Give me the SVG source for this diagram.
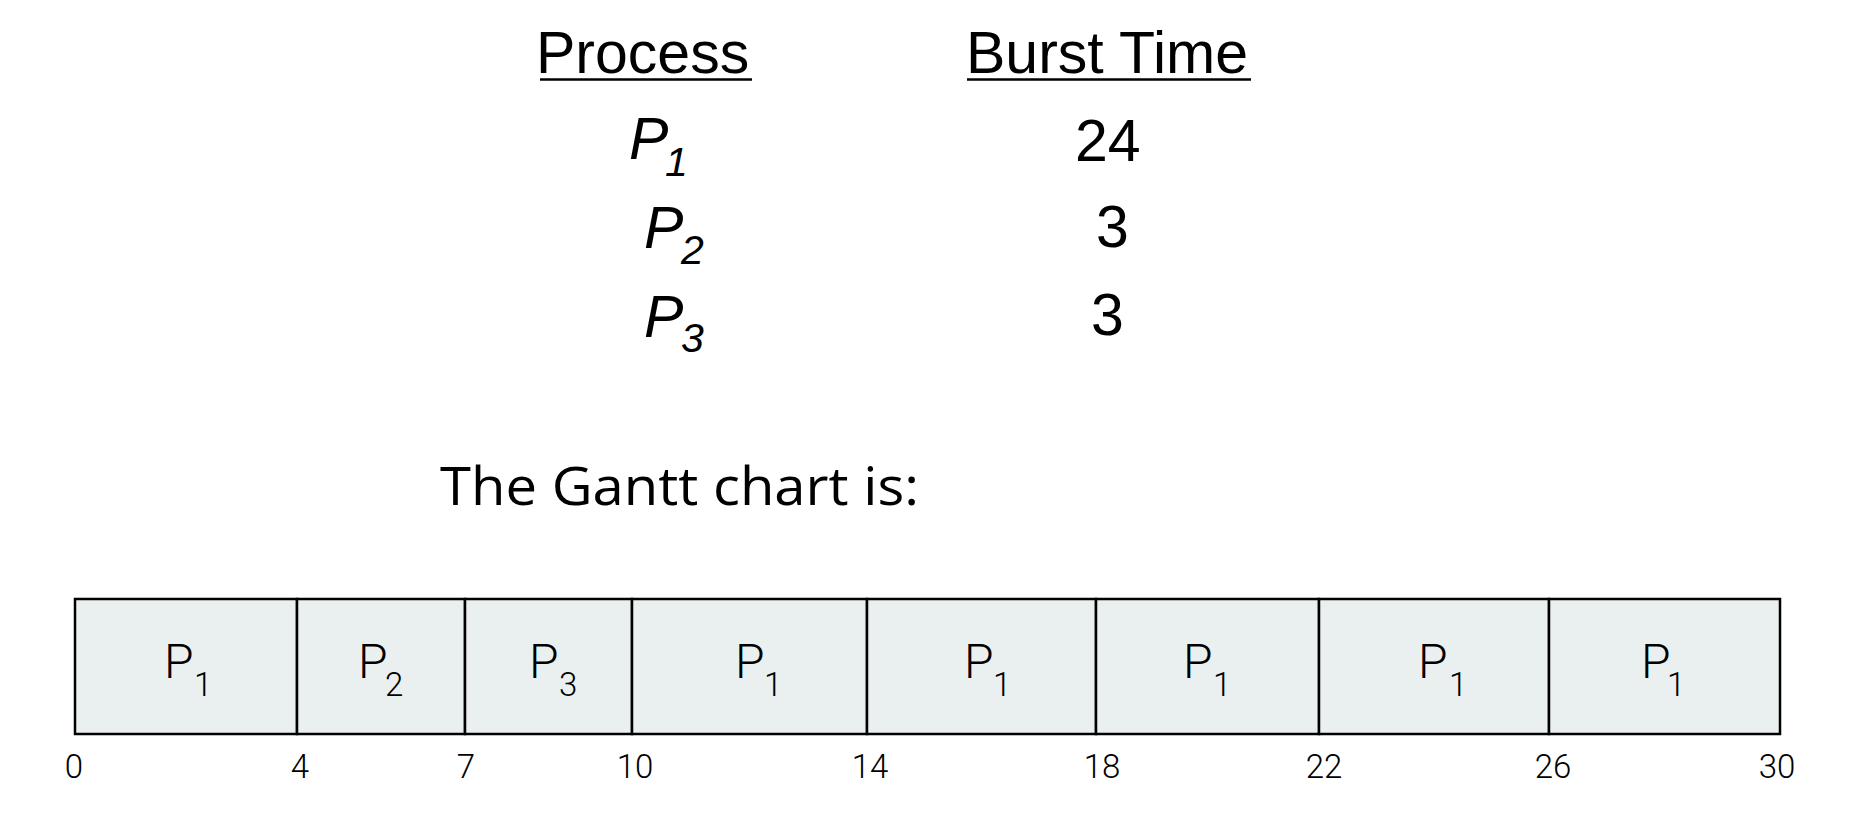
<svg xmlns="http://www.w3.org/2000/svg" width="1866" height="832" viewBox="0 0 1866 832">
  <style>
    .hdr { font-family: "Liberation Sans", Arial, sans-serif; font-size: 59px; fill: #000; }
    .ital { font-family: "Liberation Sans", Arial, sans-serif; font-style: italic; fill: #000; }
    .num { font-family: "Liberation Sans", Arial, sans-serif; font-size: 59px; fill: #000; }
    .title { font-family: "Open Sans", "Liberation Sans", sans-serif; font-size: 53px; fill: #000; }
    .cell { fill: #EAEFEF; stroke: #000; stroke-width: 2.5; }
    .clab { font-family: Roboto, "Liberation Sans", sans-serif; font-weight: 300; font-size: 48px; fill: #000; }
    .sub { font-size: 33px; }
    .tick { font-family: Roboto, "Liberation Sans", sans-serif; font-weight: 300; font-size: 33px; fill: #000; text-anchor: middle; }
    .uline { stroke: #000; stroke-width: 2.7; }
  </style>

  <g id="table">
    <g id="header-process">
      <text class="hdr" x="536" y="73">Process</text>
      <line class="uline" x1="540" y1="79.5" x2="752" y2="79.5"/>
    </g>
    <g id="header-burst">
      <text class="hdr" x="966" y="73">Burst Time</text>
      <line class="uline" x1="967" y1="79.5" x2="1251" y2="79.5"/>
    </g>
    <g id="row-p1">
      <text class="ital" font-size="59" x="629" y="159">P<tspan font-size="41" x="665" y="176">1</tspan></text>
      <text class="num" x="1075" y="161">24</text>
    </g>
    <g id="row-p2">
      <text class="ital" font-size="59" x="644" y="248">P<tspan font-size="41" x="681" y="264">2</tspan></text>
      <text class="num" x="1096" y="247">3</text>
    </g>
    <g id="row-p3">
      <text class="ital" font-size="59" x="644" y="337">P<tspan font-size="41" x="681" y="352">3</tspan></text>
      <text class="num" x="1091" y="335">3</text>
    </g>
  </g>

  <g id="title">
    <text class="title" x="440" y="505" textLength="479" lengthAdjust="spacingAndGlyphs">The Gantt chart is:</text>
  </g>

  <g id="gantt">
    <g id="cell-1">
      <rect class="cell" x="75" y="599" width="222" height="135"/>
      <text class="clab" x="164" y="678">P<tspan class="sub" x="194" y="696">1</tspan></text>
    </g>
    <g id="cell-2">
      <rect class="cell" x="297" y="599" width="168" height="135"/>
      <text class="clab" x="358" y="678">P<tspan class="sub" x="385" y="696">2</tspan></text>
    </g>
    <g id="cell-3">
      <rect class="cell" x="465" y="599" width="167" height="135"/>
      <text class="clab" x="529" y="678">P<tspan class="sub" x="559" y="696">3</tspan></text>
    </g>
    <g id="cell-4">
      <rect class="cell" x="632" y="599" width="235" height="135"/>
      <text class="clab" x="735" y="678">P<tspan class="sub" x="764" y="696">1</tspan></text>
    </g>
    <g id="cell-5">
      <rect class="cell" x="867" y="599" width="229" height="135"/>
      <text class="clab" x="964" y="678">P<tspan class="sub" x="993" y="696">1</tspan></text>
    </g>
    <g id="cell-6">
      <rect class="cell" x="1096" y="599" width="223" height="135"/>
      <text class="clab" x="1183" y="678">P<tspan class="sub" x="1213" y="696">1</tspan></text>
    </g>
    <g id="cell-7">
      <rect class="cell" x="1319" y="599" width="230" height="135"/>
      <text class="clab" x="1418" y="678">P<tspan class="sub" x="1449" y="696">1</tspan></text>
    </g>
    <g id="cell-8">
      <rect class="cell" x="1549" y="599" width="231" height="135"/>
      <text class="clab" x="1641" y="678">P<tspan class="sub" x="1667" y="696">1</tspan></text>
    </g>
  </g>

  <g id="connectors"></g>

  <g id="time-axis">
    <text class="tick" x="74" y="778">0</text>
    <text class="tick" x="300" y="778">4</text>
    <text class="tick" x="466" y="778">7</text>
    <text class="tick" x="635" y="778">10</text>
    <text class="tick" x="870" y="778">14</text>
    <text class="tick" x="1102" y="778">18</text>
    <text class="tick" x="1324" y="778">22</text>
    <text class="tick" x="1553" y="778">26</text>
    <text class="tick" x="1777" y="778">30</text>
  </g>
</svg>
